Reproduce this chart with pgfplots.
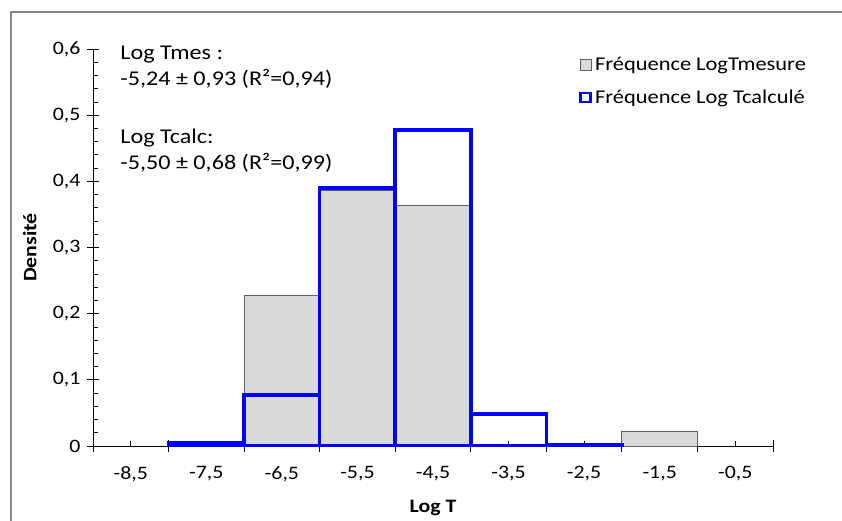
\documentclass[border=0pt]{standalone}
\usepackage{pgfplots}
\pgfplotsset{compat=1.18}
\usepackage{fontspec}
\setmainfont{Carlito}[FakeStretch=1.15]
\definecolor{barfill}{HTML}{D9D9D9}
\definecolor{baredge}{HTML}{5F5F5F}
\definecolor{frame}{HTML}{868686}
\definecolor{calcblue}{HTML}{0000FF}
\begin{document}
\begin{tikzpicture}[x=1pt,y=1pt]
\useasboundingbox (0,0) rectangle (842,520);
\draw[frame, line width=1.6pt] (11,-10) -- (11,508) -- (860,508);
\begin{axis}[
  at={(93pt,74pt)}, anchor=south west,
  scale only axis, width=680pt, height=397pt,
  xmin=-0.5, xmax=8.5, ymin=0, ymax=0.6,
  clip mode=individual,
  axis lines*=left,
  axis line style={black, line width=0.8pt},
  tick style={black, line width=0.8pt},
  tick align=center,
  major tick length=12pt,
  minor tick length=5pt,
  xtick={-0.5,0.5,1.5,2.5,3.5,4.5,5.5,6.5,7.5,8.5},
  xticklabels={},
  minor x tick num=1,
  minor x tick style={yshift=2.5pt},
  extra x ticks={0,1,2,3,4,5,6,7,8},
  extra x tick labels={{-8,5},{-7,5},{-6,5},{-5,5},{-4,5},{-3,5},{-2,5},{-1,5},{-0,5}},
  extra x tick style={major tick length=0pt},
  xticklabel style={font=\fontsize{19}{22}\selectfont, yshift=-17pt},
  ytick={0,0.1,0.2,0.3,0.4,0.5,0.6},
  yticklabels={0,{0,1},{0,2},{0,3},{0,4},{0,5},{0,6}},
  minor y tick num=4,
  minor y tick style={xshift=2.5pt},
  yticklabel style={font=\fontsize{19}{22}\selectfont, xshift=-3pt},
  xlabel={\bfseries Log T},
  xlabel style={at={(axis description cs:0.5,-0.155)}, anchor=center, font=\fontsize{19}{22}\selectfont},
  ylabel={\bfseries Densité},
  ylabel style={at={(axis description cs:-0.093,0.5)}, anchor=center, font=\fontsize{19}{22}\selectfont},
  legend style={draw=none, fill=none, at={(0.715,0.985)}, anchor=north west,
    font=\fontsize{19.5}{22}\selectfont, row sep=14pt, inner sep=0pt,
    /tikz/every odd column/.append style={column sep=1pt}},
  legend cell align=left,
]
\addplot[ybar, bar width=1, bar shift=0pt, fill=barfill, draw=baredge, line width=0.8pt,
  legend image code/.code={\draw[fill=barfill, draw=baredge, line width=0.8pt] (0pt,-5.5pt) rectangle (11pt,5.5pt);}]
  coordinates {(2,0.227) (3,0.386) (4,0.363) (7,0.0225)};
\addlegendentry{Fréquence LogTmesure}
\addplot[ybar, bar width=1, bar shift=0pt, fill=none, draw=calcblue, line width=3.5pt,
  legend image code/.code={\draw[draw=calcblue, line width=2.5pt] (0pt,-4.5pt) rectangle (10pt,4.5pt);}]
  coordinates {(1,0.005) (2,0.077) (3,0.39) (4,0.4775) (5,0.048) (6,0.002)};
\addlegendentry{Fréquence Log Tcalculé}
\node[anchor=north west, align=left, inner sep=0pt, font=\fontsize{21}{26}\selectfont]
  at (rel axis cs:0.040,1.007) {Log Tmes :\\-5,24 ± 0,93 (R²=0,94)};
\node[anchor=north west, align=left, inner sep=0pt, font=\fontsize{21}{26}\selectfont]
  at (rel axis cs:0.040,0.80) {Log Tcalc:\\-5,50 ± 0,68 (R²=0,99)};
\end{axis}
\end{tikzpicture}
\end{document}
